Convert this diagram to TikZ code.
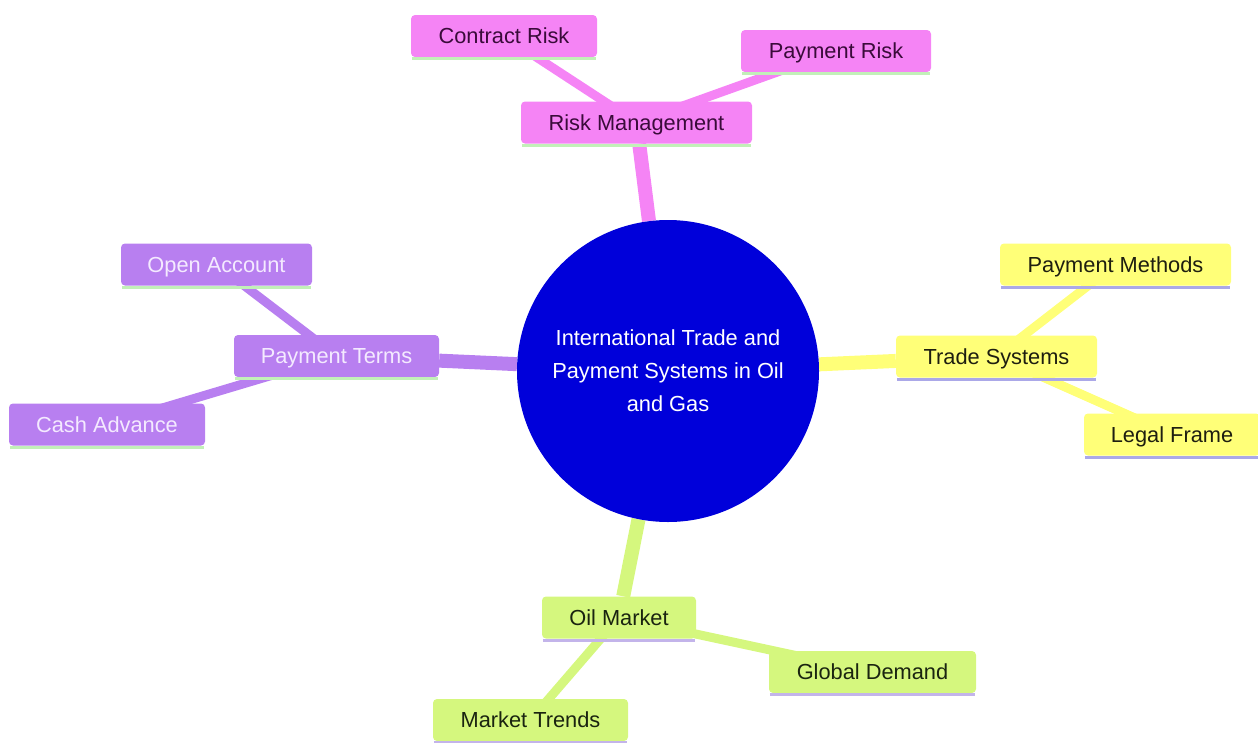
\documentclass[tikz,border=0pt]{standalone}
\usepackage{fontspec}
\setmainfont{Liberation Sans}
\usetikzlibrary{backgrounds}
\definecolor{pinkf}{HTML}{F584F5}
\definecolor{pinkt}{HTML}{3A0B3A}
\definecolor{purpf}{HTML}{B87FF0}
\definecolor{purpt}{HTML}{F4EAFF}
\definecolor{yellf}{HTML}{FFFF78}
\definecolor{yellt}{HTML}{1E1E10}
\definecolor{greenf}{HTML}{D5F77E}
\definecolor{greent}{HTML}{1A2410}
\definecolor{rootf}{HTML}{0000DA}
\definecolor{ulgreen}{HTML}{C2F0B8}
\definecolor{ullav}{HTML}{ABA8E8}
\definecolor{ullavg}{HTML}{C3B4EA}
\begin{document}
\begin{tikzpicture}[x=1pt,y=-1pt,
  font=\fontsize{21.8}{26}\selectfont,
  box/.style={rectangle, rounded corners=4pt, inner sep=0pt, minimum height=42pt,
    text height=15.6pt, text depth=0pt},
  pinkbox/.style={box, fill=pinkf, text=pinkt},
  purpbox/.style={box, fill=purpf, text=purpt},
  yellbox/.style={box, fill=yellf, text=yellt},
  greenbox/.style={box, fill=greenf, text=greent},
  lone/.style={line width=14pt},
  ltwo/.style={line width=9pt},
  ul/.style={line width=3pt}]
\useasboundingbox (0,0) rectangle (1258,742);

% root
\node[circle, fill=rootf, minimum size=302pt, inner sep=0pt, text=white, align=center,
  font=\fontsize{21.8}{33}\selectfont] (root) at (668,371)
  {International Trade and\\Payment Systems in Oil\\and Gas};

% pink section
\node[pinkbox, minimum width=231pt] (rm) at (636.5,122.5) {Risk Management};
\node[pinkbox, minimum width=186pt] (cr) at (504,36) {Contract Risk};
\node[pinkbox, minimum width=190pt] (pr) at (836,51) {Payment Risk};

% purple section
\node[purpbox, minimum width=205pt] (pt) at (336.5,356) {Payment Terms};
\node[purpbox, minimum width=191pt] (oa) at (216.5,264.5) {Open Account};
\node[purpbox, minimum width=196pt] (ca) at (107,424.5) {Cash Advance};

% yellow section
\node[yellbox, minimum width=201pt] (ts) at (996.5,356.5) {Trade Systems};
\node[yellbox, minimum width=231pt] (pm) at (1115.5,264.5) {Payment Methods};
\node[yellbox, minimum width=176pt] (lf) at (1172,434.5) {Legal Frame};

% green section
\node[greenbox, minimum width=154pt] (om) at (619,617.5) {Oil Market};
\node[greenbox, minimum width=207pt] (gd) at (872.5,672) {Global Demand};
\node[greenbox, minimum width=195pt] (mt) at (530.5,720) {Market Trends};

% underlines
\foreach \n/\c in {rm/ulgreen, cr/ulgreen, pr/ulgreen, pt/ulgreen, oa/ulgreen, ca/ulgreen,
                   ts/ullav, pm/ullav, lf/ullav, om/ullavg, gd/ullavg, mt/ullavg}
  \draw[ul, \c] ([xshift=1pt,yshift=-1.5pt]\n.south west) -- ([xshift=-1pt,yshift=-1.5pt]\n.south east);

% edges
\begin{scope}[on background layer]
  \draw[lone, pinkf] (root) -- (rm);
  \draw[ltwo, pinkf] (rm.center) -- (cr.center);
  \draw[ltwo, pinkf] (rm.center) -- (pr.center);
  \draw[lone, purpf] (root) -- (pt);
  \draw[ltwo, purpf] (pt.center) -- (oa.center);
  \draw[ltwo, purpf] (pt.center) -- (ca.center);
  \draw[lone, yellf] (root) -- (ts);
  \draw[ltwo, yellf] (ts.center) -- (pm.center);
  \draw[ltwo, yellf] (ts.center) -- (lf.center);
  \draw[lone, greenf] (root) -- (om);
  \draw[ltwo, greenf] (om.center) -- (gd.center);
  \draw[ltwo, greenf] (om.center) -- (mt.center);
\end{scope}
\end{tikzpicture}
\end{document}
